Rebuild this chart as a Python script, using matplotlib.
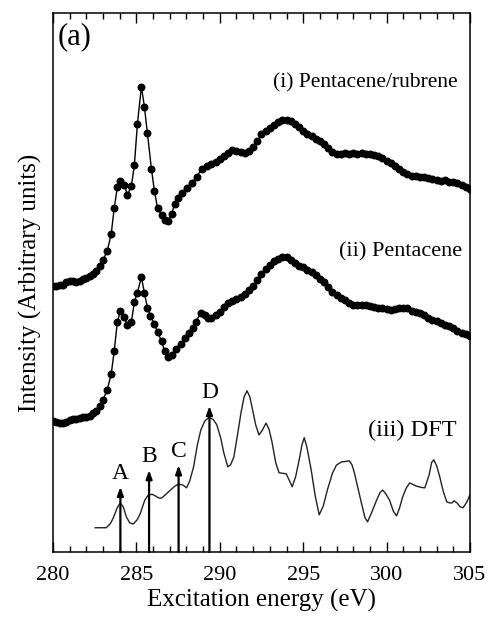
import matplotlib
matplotlib.use("Agg")
import matplotlib.pyplot as plt
from matplotlib.ticker import MultipleLocator

plt.rcParams['font.family'] = ['Liberation Serif', 'DejaVu Serif']

# (i) Pentacene/rubrene - energie (eV), intensitaet (willk. Einheiten)
e_rub = [280.0, 280.2, 280.4, 280.6, 280.8, 281.0, 281.2, 281.4, 281.6, 281.8,
         282.0, 282.2, 282.4, 282.6, 282.8, 283.0,
         283.25, 283.49, 283.67, 283.86, 284.04, 284.28, 284.46, 284.70, 284.88, 285.06,
         285.30, 285.48, 285.66, 285.90, 286.08, 286.27, 286.51, 286.69, 286.87, 287.11,
         287.29, 287.47, 287.71, 288.01, 288.31, 288.61, 288.92,
         289.25, 289.50, 289.75, 290.00, 290.25, 290.50, 290.75, 291.00, 291.25, 291.50,
         291.75, 292.00, 292.25, 292.50, 292.75, 293.00, 293.25, 293.50, 293.75, 294.00,
         294.25, 294.50, 294.75, 295.00, 295.25, 295.50, 295.75, 296.00, 296.25, 296.50,
         296.75, 297.00, 297.25, 297.50, 297.75, 298.00, 298.25, 298.50, 298.75, 299.00,
         299.25, 299.50, 299.75, 300.00, 300.25, 300.50, 300.75, 301.00, 301.25, 301.50,
         301.75, 302.00, 302.25, 302.50, 302.75, 303.00, 303.25, 303.50, 303.75, 304.00,
         304.25, 304.50, 304.75, 305.00]
i_rub = [49.3, 49.4, 49.5, 49.6, 50.0, 50.3, 50.2, 50.1, 50.2, 50.6,
         50.9, 51.2, 51.6, 52.1, 53.0, 54.2,
         55.8, 59.0, 63.8, 67.7, 68.8, 68.1, 66.2, 67.9, 71.8, 79.4,
         86.3, 82.6, 77.7, 71.1, 67.0, 63.8, 62.5, 61.6, 61.4, 62.7,
         64.6, 65.7, 66.6, 67.5, 68.5, 69.6, 71.1,
         71.7, 72.0, 72.4, 72.9, 73.4, 74.1, 74.6, 74.4, 74.2, 74.0,
         74.3, 75.2, 76.3, 77.5, 78.1, 78.6, 79.2, 79.7, 80.1, 80.1,
         79.9, 79.4, 78.8, 78.1, 77.6, 77.1, 76.6, 76.2, 75.6, 74.9,
         74.2, 73.8, 73.9, 74.0, 73.9, 74.1, 73.9, 74.0, 73.8, 73.8,
         73.6, 73.4, 73.0, 72.6, 72.1, 71.6, 71.0, 70.5, 70.1, 69.8,
         69.7, 69.5, 69.5, 69.3, 69.2, 69.1, 68.9, 69.0, 68.7, 68.6,
         68.4, 68.1, 67.8, 67.3]

# (ii) Pentacene
e_pen = [280.0, 280.2, 280.4, 280.6, 280.8, 281.0, 281.2, 281.4, 281.6, 281.8,
         282.0, 282.2, 282.4, 282.6, 282.8, 283.0,
         283.25, 283.49, 283.67, 283.86, 284.04, 284.28, 284.46, 284.70, 284.88, 285.06,
         285.30, 285.48, 285.66, 285.84, 286.08, 286.27, 286.51, 286.69, 286.87, 287.11,
         287.35, 287.65, 287.89, 288.13, 288.37, 288.55, 288.86, 289.10, 289.28,
         289.50, 289.75, 290.00, 290.25, 290.50, 290.75, 291.00, 291.25, 291.50,
         291.75, 292.00, 292.25, 292.50, 292.75, 293.00, 293.25, 293.50, 293.75, 294.00,
         294.25, 294.50, 294.75, 295.00, 295.25, 295.50, 295.75, 296.00, 296.25, 296.50,
         296.75, 297.00, 297.25, 297.50, 297.75, 298.00, 298.25, 298.50, 298.75, 299.00,
         299.25, 299.50, 299.75, 300.00, 300.25, 300.50, 300.75, 301.00, 301.25, 301.50,
         301.75, 302.00, 302.25, 302.50, 302.75, 303.00, 303.25, 303.50, 303.75, 304.00,
         304.25, 304.50, 304.75, 305.00]
i_pen = [24.3, 24.1, 23.9, 24.0, 24.2, 24.4, 24.6, 24.7, 24.9, 25.0,
         25.1, 25.3, 25.7, 26.2, 27.1, 28.2,
         30.1, 33.0, 37.3, 42.7, 44.7, 43.6, 42.1, 42.7, 46.4, 48.1,
         51.0, 48.1, 45.3, 43.8, 42.3, 40.8, 39.1, 37.3, 36.2, 36.5,
         37.7, 38.6, 39.7, 40.6, 41.6, 42.7, 44.3, 44.0, 43.4,
         43.4, 43.9, 44.6, 45.4, 46.1, 46.6, 47.0, 47.3, 47.9,
         48.6, 49.4, 50.4, 51.6, 52.5, 53.2, 53.9, 54.4, 54.7, 54.7,
         54.1, 53.6, 53.1, 52.8, 52.4, 51.9, 51.3, 50.7, 50.0, 49.1,
         48.2, 47.6, 47.2, 46.7, 46.2, 45.8, 45.9, 45.8, 45.8, 45.6,
         45.5, 45.3, 45.2, 45.0, 44.9, 45.0, 45.2, 45.3, 45.2, 44.8,
         44.6, 44.3, 43.9, 43.4, 43.0, 42.8, 42.5, 42.2, 41.9, 41.5,
         41.0, 40.7, 40.4, 40.1]

# (iii) DFT
e_dft = [282.53, 283.19, 283.45, 283.61, 283.85, 284.04, 284.22, 284.40, 284.60, 284.82,
         285.05, 285.24, 285.50, 285.72, 285.95, 286.14, 286.35, 286.51, 286.80, 287.05,
         287.30, 287.53, 287.80, 288.01, 288.20, 288.43, 288.65, 288.86, 289.10, 289.34,
         289.60, 289.82, 290.05, 290.24, 290.48, 290.65, 290.84, 291.05, 291.27, 291.45,
         291.63, 291.80, 291.93, 292.15, 292.35, 292.55, 292.77, 292.95, 293.13, 293.35,
         293.55, 293.98, 294.15, 294.34, 294.55, 294.76, 294.92, 295.06, 295.22, 295.48,
         295.72, 295.96, 296.20, 296.45, 296.75, 296.99, 297.29, 297.55, 297.77, 297.92,
         298.07, 298.30, 298.49, 298.70, 298.86, 299.10, 299.40, 299.60, 299.76, 299.95,
         300.18, 300.40, 300.60, 300.78, 300.96, 301.20, 301.39, 301.60, 301.81, 302.05,
         302.29, 302.55, 302.70, 302.83, 303.00, 303.19, 303.40, 303.61, 303.80, 303.92,
         304.05, 304.22, 304.40, 304.58, 304.80, 305.00]
i_dft = [4.5, 4.5, 5.3, 6.3, 8.2, 9.1, 8.3, 6.5, 5.4, 5.2,
         6.0, 7.2, 9.6, 10.6, 10.7, 10.4, 10.0, 10.0, 10.8, 11.5,
         12.2, 12.6, 12.4, 11.9, 13.2, 15.8, 19.8, 22.6, 24.3, 24.9,
         24.6, 23.6, 21.2, 18.4, 15.8, 16.2, 17.6, 21.5, 25.8, 28.7,
         29.9, 28.8, 26.9, 23.6, 21.7, 22.6, 23.9, 22.8, 20.4, 16.6,
         14.7, 14.5, 13.4, 12.1, 14.0, 17.1, 19.8, 21.2, 19.5, 15.2,
         10.4, 6.9, 8.5, 11.5, 14.6, 16.1, 16.7, 16.8, 16.9, 16.2,
         14.7, 11.6, 9.1, 6.4, 5.6, 7.3, 9.6, 11.0, 11.5, 10.8,
         9.6, 7.6, 6.7, 8.2, 10.2, 12.0, 12.8, 12.5, 12.2, 12.0,
         11.9, 14.3, 16.6, 17.1, 16.0, 13.9, 11.2, 9.3, 9.1, 9.1,
         9.5, 9.1, 8.4, 8.2, 9.2, 10.6]

# Uebergaenge A-D
stick_labels = ['A', 'B', 'C', 'D']
stick_e = [284.04, 285.76, 287.53, 289.38]
stick_h = [12.1, 15.2, 16.1, 27.1]

fig = plt.figure(figsize=(4.88, 6.2), dpi=100)
ax = fig.add_axes([0.1086, 0.1097, 0.8545, 0.8694])

ax.plot(e_rub, i_rub, color='black', linewidth=1.0, marker='o', markersize=4.7)
ax.plot(e_pen, i_pen, color='black', linewidth=1.0, marker='o', markersize=4.7)
ax.plot(e_dft, i_dft, color='#222222', linewidth=1.0)

for lab, e, h in zip(stick_labels, stick_e, stick_h):
    ax.annotate('', xy=(e, h), xytext=(e, 0),
                arrowprops=dict(arrowstyle='-|>,head_length=0.5,head_width=0.18',
                                color='black', lw=1.6, shrinkA=0, shrinkB=0))
    ax.text(e, h + 0.6, lab, ha='center', va='bottom', fontsize=17)

ax.text(304.25, 87.0, '(i) Pentacene/rubrene', ha='right', va='center', fontsize=15.5)
ax.text(304.5, 55.6, '(ii) Pentacene', ha='right', va='center', fontsize=16)
ax.text(304.2, 22.6, '(iii) DFT', ha='right', va='center', fontsize=17.5)
ax.text(0.012, 0.955, '(a)', transform=ax.transAxes, ha='left', va='center', fontsize=22)

ax.set_xlim(280, 305)
ax.set_ylim(0, 100)
ax.xaxis.set_major_locator(MultipleLocator(5))
ax.xaxis.set_minor_locator(MultipleLocator(1))
ax.set_yticks([])
ax.tick_params(axis='x', which='both', direction='in', top=True, labelsize=16, pad=10)
ax.tick_params(axis='x', which='major', length=7, width=1.0)
ax.tick_params(axis='x', which='minor', length=4, width=1.0)
for s in ax.spines.values():
    s.set_linewidth(1.1)

ax.set_xlabel('Excitation energy (eV)', fontsize=18, labelpad=3)
ax.set_ylabel('Intensity (Arbitrary units)', fontsize=18, labelpad=8)

fig.savefig('out.png', dpi=100)
